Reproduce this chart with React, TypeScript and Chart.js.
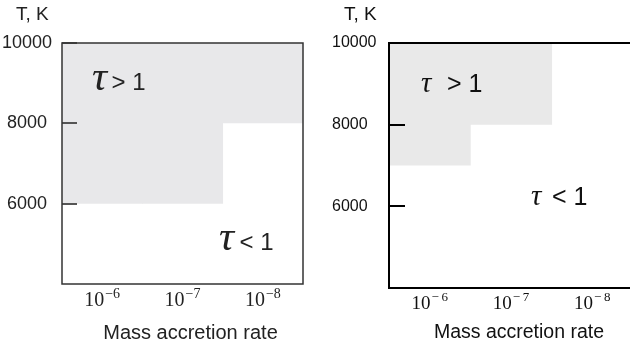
import React, { useEffect, useRef } from 'react';
import { Chart, registerables } from 'chart.js';

Chart.register(...registerables);

// ---- data ----
const CATEGORIES = ['10⁻⁶', '10⁻⁷', '10⁻⁸'];
const X_BASE = '10';
const X_EXPONENTS_LEFT = ['−6', '−7', '−8'];
const X_EXPONENTS_RIGHT = ['−\u20096', '−\u20097', '−\u20098'];
const Y_MIN = 4000;
const Y_MAX = 10000;
const Y_TICKS = [6000, 8000, 10000];
const LEFT_LOW: (number | null)[] = [6000, 6000, 8000];
const LEFT_HIGH: (number | null)[] = [10000, 10000, 10000];
const RIGHT_LOW: (number | null)[] = [7000, 8000, null];
const RIGHT_HIGH: (number | null)[] = [10000, 10000, null];
const Y_TITLE = 'T, K';
const X_TITLE = 'Mass accretion rate';
const LEFT_NOTES = [
  { tau: 'τ', rest: '> 1', x: -0.127, y: 8830 },
  { tau: 'τ', rest: '< 1', x: 1.454, y: 4846 },
];
const RIGHT_NOTES = [
  { tau: 'τ', rest: '> 1', x: -0.107, y: 8800 },
  { tau: 'τ', rest: '< 1', x: 1.246, y: 6033 },
];

const SANS = '"Liberation Sans", Arial, sans-serif';
const SERIF = '"Liberation Serif", "Times New Roman", serif';

type Panel = {
  width: number;
  padLeft: number;
  padRight: number;
  axisW: number;
  axisH: number;
  fill: string;
  frame: string;
  frameW: number;
  tick: string;
  tickLen: number;
  text: string;
  yFont: number;
  crossAlign: 'near' | 'center' | 'far';
  tickPad: number;
  xFont: number;
  expFont: number;
  xLabelDy: number;
  expRise: number;
  titleFont: number;
  titleDx: number;
  titleY: number;
  yTitleDx: number;
  tauFont: number;
  restFont: number;
  gaps: number[];
  exps: string[];
  notes: { tau: string; rest: string; x: number; y: number }[];
  low: (number | null)[];
  high: (number | null)[];
};

const LEFT: Panel = {
  width: 315, padLeft: 0, padRight: 12, axisW: 62, axisH: 67,
  fill: '#e8e8ea', frame: '#333', frameW: 1.5, tick: '#555', tickLen: 15,
  text: '#222', yFont: 18, crossAlign: 'center', tickPad: 10,
  xFont: 20, expFont: 14, xLabelDy: 22, expRise: 8, titleFont: 20, titleDx: 8, titleY: 333, yTitleDx: -46,
  tauFont: 42, restFont: 24, gaps: [19.5, 20.5],
  exps: X_EXPONENTS_LEFT, notes: LEFT_NOTES, low: LEFT_LOW, high: LEFT_HIGH,
};

const RIGHT: Panel = {
  width: 318, padLeft: 17, padRight: 0, axisW: 57, axisH: 63,
  fill: '#e9e9e9', frame: '#000', frameW: 2, tick: '#000', tickLen: 16,
  text: '#111', yFont: 16, crossAlign: 'far', tickPad: 0,
  xFont: 19, expFont: 13, xLabelDy: 21, expRise: 8, titleFont: 19.5, titleDx: 8, titleY: 333, yTitleDx: -45,
  tauFont: 29, restFont: 25, gaps: [26, 21],
  exps: X_EXPONENTS_RIGHT, notes: RIGHT_NOTES, low: RIGHT_LOW, high: RIGHT_HIGH,
};

function decorPlugin(p: Panel) {
  return {
    id: 'panelDecor',
    afterDatasetsDraw(chart: any) {
      const { ctx, chartArea: a, scales } = chart;
      const y = scales.y;
      ctx.save();
      ctx.strokeStyle = p.tick;
      ctx.lineWidth = 2;
      Y_TICKS.forEach((v) => {
        const py = Math.round(y.getPixelForValue(v));
        ctx.beginPath();
        ctx.moveTo(a.left, py);
        ctx.lineTo(a.left + p.tickLen, py);
        ctx.stroke();
      });
      ctx.strokeStyle = p.frame;
      ctx.lineWidth = p.frameW;
      ctx.strokeRect(a.left, a.top, a.right - a.left, a.bottom - a.top);
      ctx.restore();
    },
    afterDraw(chart: any) {
      const { ctx, chartArea: a, scales } = chart;
      const xs = scales.x;
      const ys = scales.y;
      ctx.save();
      ctx.fillStyle = p.text;
      // y title
      ctx.font = `19px ${SANS}`;
      ctx.textAlign = 'left';
      ctx.textBaseline = 'middle';
      ctx.fillText(Y_TITLE, a.left + p.yTitleDx, a.top - 28);
      // x tick labels (10 with superscript exponent)
      ctx.textBaseline = 'alphabetic';
      CATEGORIES.forEach((_, i) => {
        const cx = xs.getPixelForTick(i);
        ctx.font = `${p.xFont}px ${SERIF}`;
        const wb = ctx.measureText(X_BASE).width;
        ctx.font = `${p.expFont}px ${SERIF}`;
        const we = ctx.measureText(p.exps[i]).width;
        const start = cx - (wb + we + 1) / 2;
        const by = a.bottom + p.xLabelDy;
        ctx.font = `${p.xFont}px ${SERIF}`;
        ctx.fillText(X_BASE, start, by);
        ctx.font = `${p.expFont}px ${SERIF}`;
        ctx.fillText(p.exps[i], start + wb + 1, by - p.expRise);
      });
      // x title
      ctx.font = `${p.titleFont}px ${SANS}`;
      ctx.textAlign = 'center';
      ctx.textBaseline = 'middle';
      ctx.fillText(X_TITLE, (a.left + a.right) / 2 + p.titleDx, p.titleY);
      // annotations
      ctx.textAlign = 'left';
      ctx.textBaseline = 'alphabetic';
      p.notes.forEach((n, i) => {
        const px = xs.getPixelForValue(n.x);
        const py = ys.getPixelForValue(n.y);
        ctx.font = `italic ${p.tauFont}px ${SERIF}`;
        ctx.fillText(n.tau, px, py);
        ctx.font = `${p.restFont}px ${SANS}`;
        ctx.fillText(n.rest, px + p.gaps[i], py);
      });
      ctx.restore();
    },
  };
}

function makeChart(canvas: HTMLCanvasElement, p: Panel) {
  return new Chart(canvas, {
    type: 'bar',
    data: {
      labels: CATEGORIES,
      datasets: [
        {
          data: p.low.map((l, i) => (l === null || p.high[i] === null ? null : [l, p.high[i] as number])) as any,
          backgroundColor: p.fill,
          borderWidth: 0,
          barPercentage: 1.01,
          categoryPercentage: 1,
        },
      ],
    },
    options: {
      animation: false,
      responsive: false,
      maintainAspectRatio: false,
      devicePixelRatio: 1,
      layout: { padding: { top: 43, left: p.padLeft, right: p.padRight, bottom: 0 } },
      plugins: { legend: { display: false }, tooltip: { enabled: false } },
      scales: {
        x: {
          type: 'category',
          offset: true,
          grid: { display: false, drawTicks: false },
          border: { display: false },
          ticks: { display: false },
          afterFit: (s: any) => {
            s.height = p.axisH;
          },
        },
        y: {
          type: 'linear',
          min: Y_MIN,
          max: Y_MAX,
          grid: { display: false, drawTicks: false },
          border: { display: false },
          afterBuildTicks: (s: any) => {
            s.ticks = Y_TICKS.map((v) => ({ value: v }));
          },
          ticks: {
            font: { family: SANS, size: p.yFont },
            color: p.text,
            crossAlign: p.crossAlign,
            padding: p.tickPad,
            callback: (v: any) => String(v),
          },
          afterFit: (s: any) => {
            s.width = p.axisW;
          },
        },
      },
    },
    plugins: [decorPlugin(p)],
  } as any);
}

function PanelChart({ panel }: { panel: Panel }) {
  const ref = useRef<HTMLCanvasElement | null>(null);
  useEffect(() => {
    if (!ref.current) return;
    const chart = makeChart(ref.current, panel);
    return () => chart.destroy();
  }, [panel]);
  return (
    <canvas
      ref={ref}
      width={panel.width}
      height={351}
      style={{ width: panel.width, height: 351, display: 'block' }}
    />
  );
}

export default function App() {
  return (
    <div
      style={{
        position: 'fixed',
        left: 0,
        top: 0,
        width: 630,
        height: 351,
        overflow: 'hidden',
        background: '#fff',
      }}
    >
      <div style={{ position: 'absolute', left: 0, top: 0 }}>
        <PanelChart panel={LEFT} />
      </div>
      <div style={{ position: 'absolute', left: 315, top: 0 }}>
        <PanelChart panel={RIGHT} />
      </div>
    </div>
  );
}
